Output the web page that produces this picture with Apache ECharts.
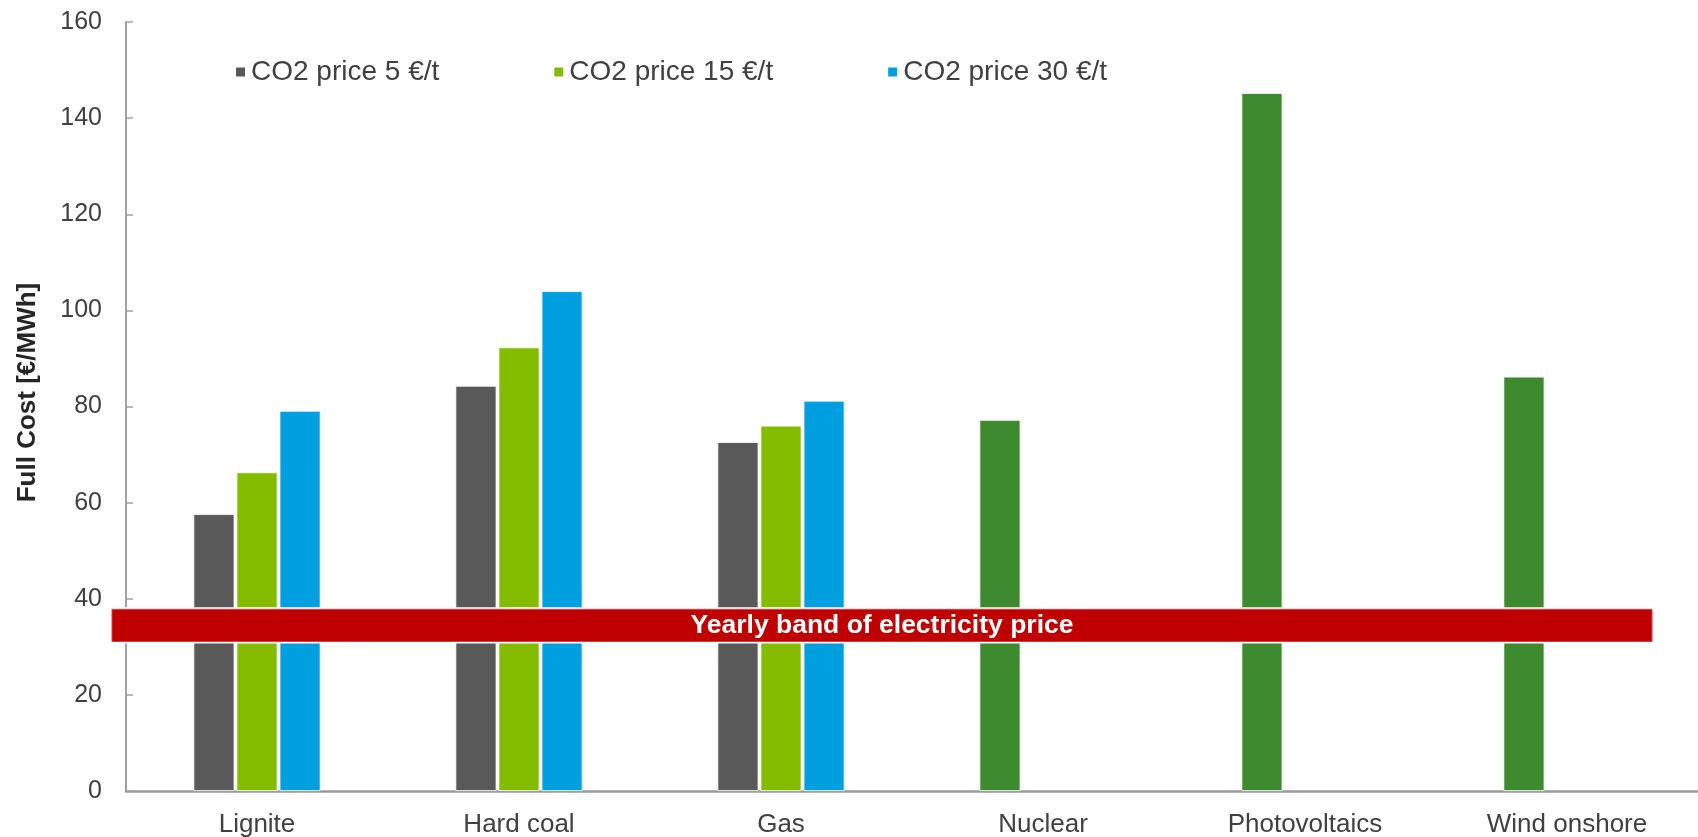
<!DOCTYPE html>
<html>
<head>
<meta charset="utf-8">
<script src="https://cdn.jsdelivr.net/npm/echarts@6/dist/echarts.min.js"></script>
<style>
html,body{margin:0;padding:0;background:#fff;}
#chart{width:1698px;height:837px;}
</style>
</head>
<body>
<div id="chart"></div>
<script>
// ---- data ----
const categories = ['Lignite', 'Hard coal', 'Gas', 'Nuclear', 'Photovoltaics', 'Wind onshore'];
const seriesNames = ['CO2 price 5 \u20ac/t', 'CO2 price 15 \u20ac/t', 'CO2 price 30 \u20ac/t'];
const co2Price5  = [57.6, 84.3, 72.6, 77.2, 145.2, 86.2];
const co2Price15 = [66.3, 92.3, 76.0, null, null, null];
const co2Price30 = [79.1, 104.0, 81.2, null, null, null];
const renewableOrNuclear = [false, false, false, true, true, true];
const yTicks = [0, 20, 40, 60, 80, 100, 120, 140, 160];
const priceBand = [31.1, 37.8];
const priceBandLabel = 'Yearly band of electricity price';
const yAxisTitle = 'Full Cost [\u20ac/MWh]';

// ---- styles ----
const colGray = '#595959', colLight = '#84BC00', colBlue = '#00A0E0', colDark = '#3D8A2F';
const font = '"Liberation Sans", Arial, sans-serif';
const txt = '#404040';

const chart = echarts.init(document.getElementById('chart'), null, {renderer: 'canvas'});

const toData = (arr, colorFn) => arr.map((v, i) => {
  if (v === null) return '-';
  const c = colorFn ? colorFn(i) : null;
  return c ? {value: v, itemStyle: {color: c}} : v;
});

const barCommon = {
  type: 'bar',
  barWidth: 41,
  barGap: '5%',
  animation: false
};

chart.setOption({
  animation: false,
  textStyle: {fontFamily: font},
  grid: {left: 126, right: 0, top: 22, bottom: 46, containLabel: false, outerBoundsMode: 'none'},
  legend: {
    data: seriesNames,
    left: 234, top: 58, padding: 0,
    icon: 'rect', itemWidth: 11, itemHeight: 11, itemGap: 113,
    textStyle: {fontFamily: font, fontSize: 28, color: txt},
    selectedMode: false
  },
  xAxis: {
    type: 'category',
    data: categories,
    axisLine: {lineStyle: {color: '#9a9a9a', width: 2.5}},
    axisTick: {show: false},
    axisLabel: {fontFamily: font, fontSize: 26, color: txt, margin: 21}
  },
  yAxis: {
    type: 'value',
    min: 0, max: 160, interval: 20,
    name: yAxisTitle,
    nameLocation: 'middle',
    nameGap: 85,
    nameRotate: 90,
    nameTextStyle: {fontFamily: font, fontSize: 26, fontWeight: 'bold', color: '#262626', padding: [0, 0, 0, 28]},
    axisLine: {show: true, lineStyle: {color: '#a0a0a0', width: 2}},
    axisTick: {show: true, inside: true, length: 7, lineStyle: {color: '#a0a0a0', width: 1.5}},
    splitLine: {show: false},
    axisLabel: {fontFamily: font, fontSize: 25, color: txt, margin: 24,
      formatter: v => yTicks.includes(v) ? String(v) : ''}
  },
  series: [
    Object.assign({}, barCommon, {name: seriesNames[0], itemStyle: {color: colGray, borderColor: '#fff', borderWidth: 0.8},
      data: toData(co2Price5, i => renewableOrNuclear[i] ? colDark : null)}),
    Object.assign({}, barCommon, {name: seriesNames[1], itemStyle: {color: colLight, borderColor: '#fff', borderWidth: 0.8},
      data: toData(co2Price15)}),
    Object.assign({}, barCommon, {name: seriesNames[2], itemStyle: {color: colBlue, borderColor: '#fff', borderWidth: 0.8},
      data: toData(co2Price30)})
  ]
});

// price band drawn from the value axis scale
const yHi = chart.convertToPixel({yAxisIndex: 0}, priceBand[1]);
const yLo = chart.convertToPixel({yAxisIndex: 0}, priceBand[0]);
const bandLeft = 112, bandRight = 1652;
chart.setOption({
  graphic: [
    {type: 'rect', z: 100, silent: true,
      shape: {x: bandLeft - 2, y: yHi - 2, width: bandRight - bandLeft + 4, height: (yLo - yHi) + 4},
      style: {fill: '#ffffff'}},
    {type: 'rect', z: 101, silent: true,
      shape: {x: bandLeft, y: yHi, width: bandRight - bandLeft, height: yLo - yHi},
      style: {fill: '#C00000', stroke: '#D84040', lineWidth: 1}},
    {type: 'text', z: 102, silent: true,
      x: (bandLeft + bandRight) / 2, y: (yHi + yLo) / 2,
      style: {text: priceBandLabel, fill: '#ffffff', font: 'bold 26.5px ' + font,
        textAlign: 'center', textVerticalAlign: 'middle'}}
  ]
});
</script>
</body>
</html>
